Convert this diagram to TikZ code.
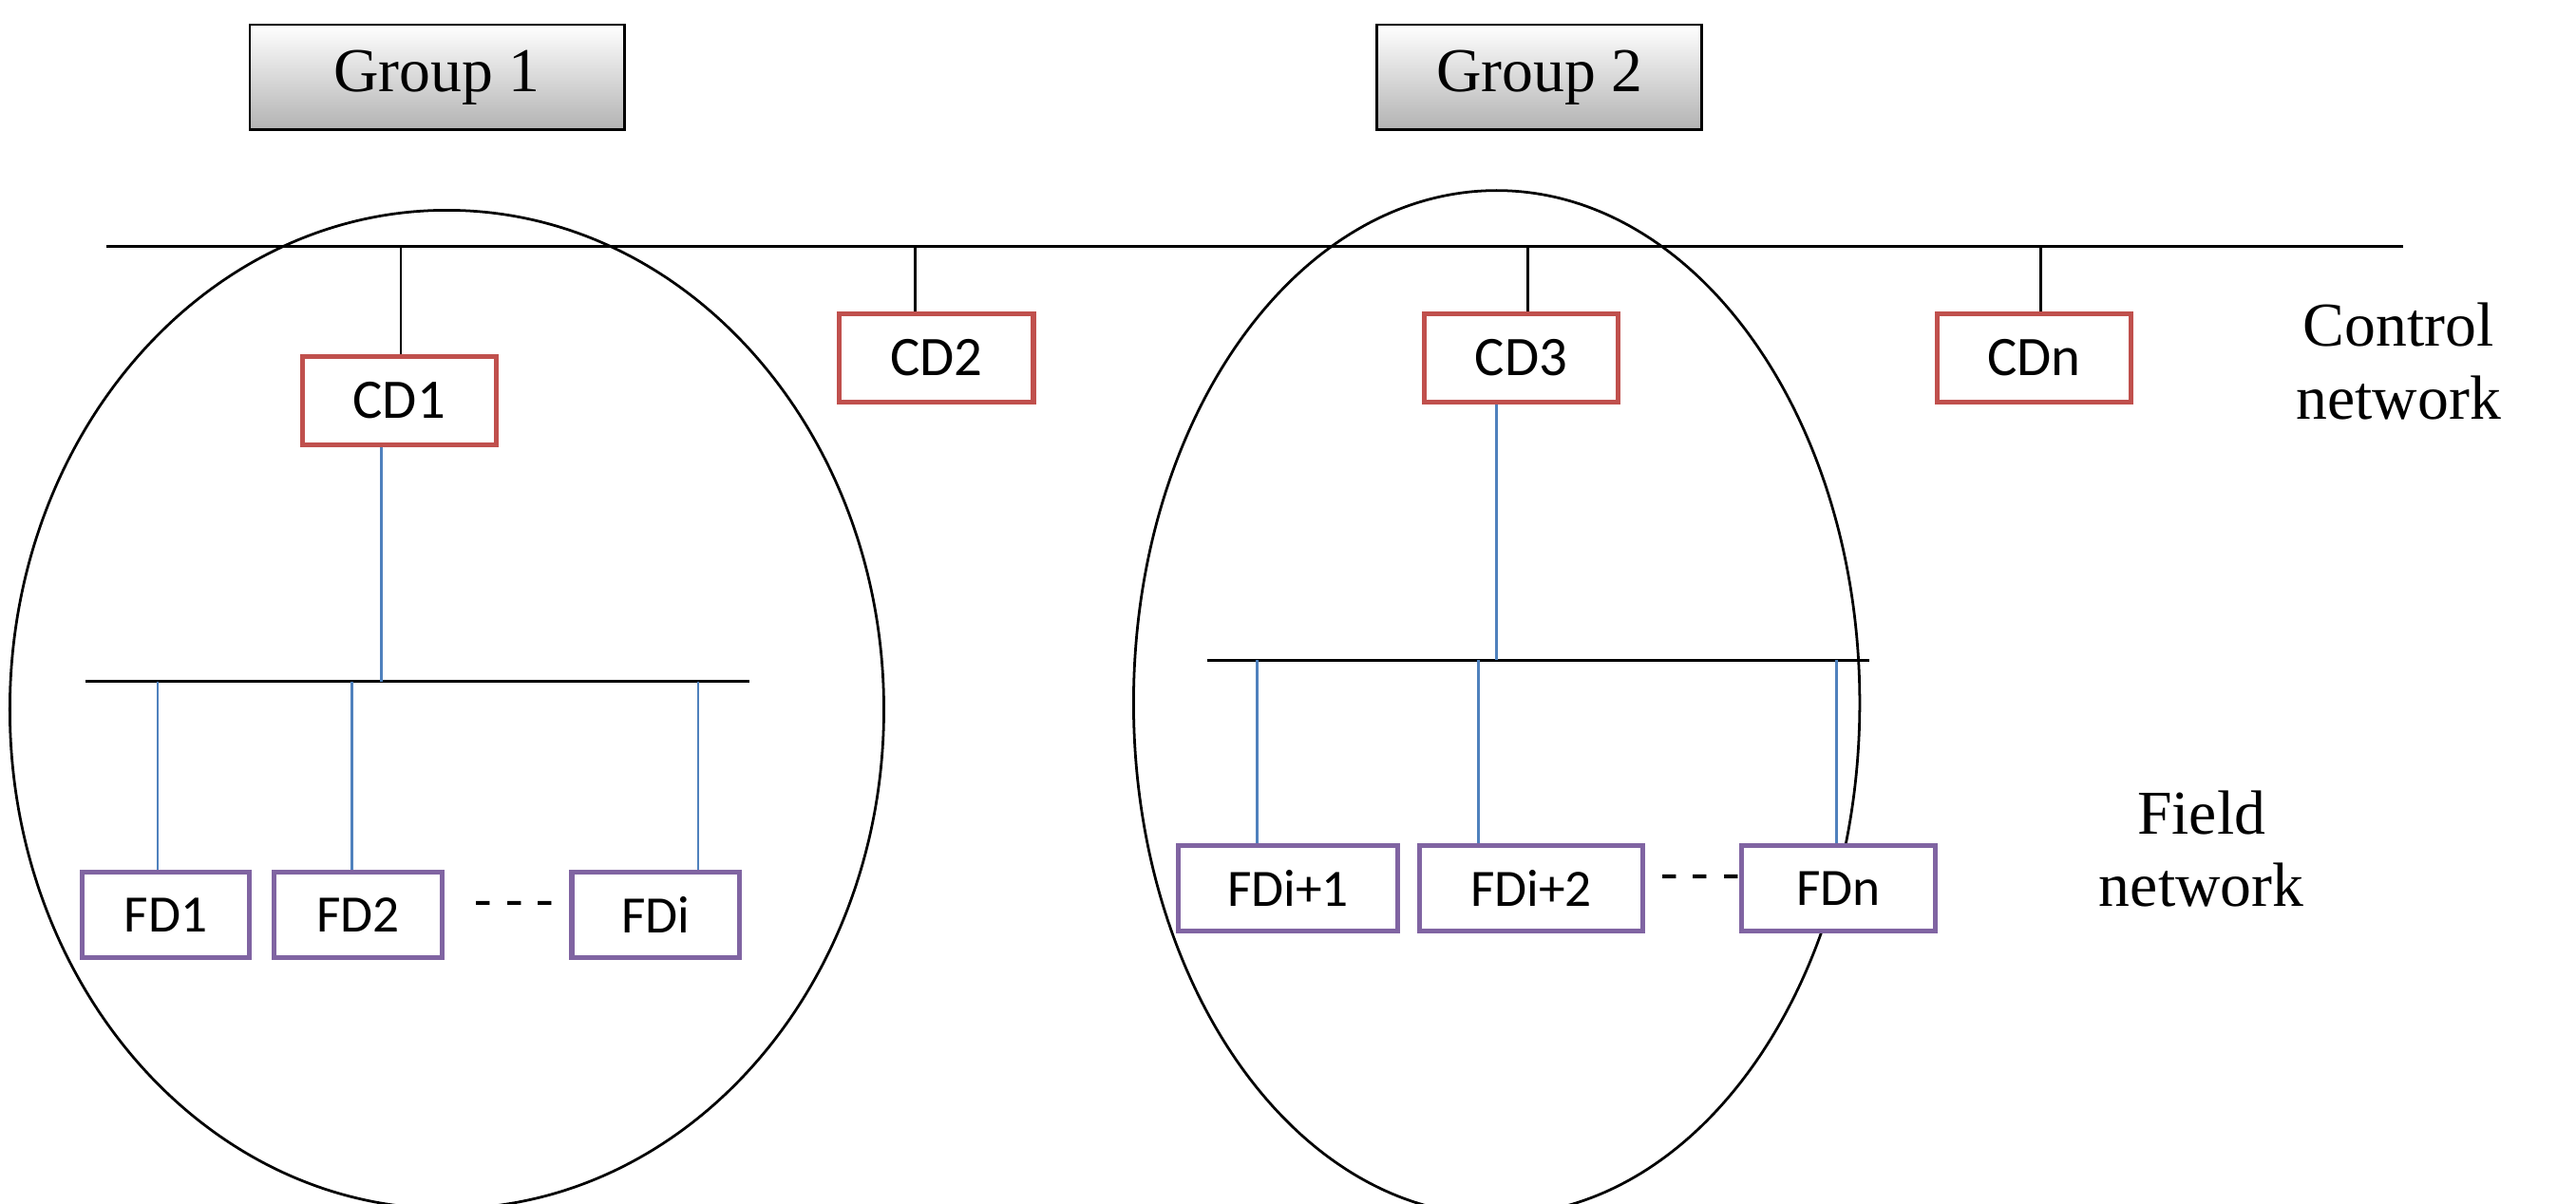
\documentclass[tikz,border=0pt]{standalone}
\usepackage{fontspec}
\setmainfont{Liberation Serif}
\newfontfamily\carfont{Carlito}
\definecolor{cdc}{RGB}{192,80,77}
\definecolor{fdc}{RGB}{128,100,162}
\definecolor{bl}{RGB}{79,129,189}
\begin{document}
\begin{tikzpicture}[x=0.5pt,y=-0.5pt,
 grp/.style={draw=black,line width=0.8pt,top color=white,bottom color=black!30,minimum width=114pt,minimum height=32pt,font=\fontsize{19}{22}\selectfont,inner sep=0pt},
 cd/.style={draw=cdc,line width=1.5pt,fill=white,minimum width=59pt,minimum height=27pt,font=\carfont\fontsize{17}{20}\selectfont,inner sep=0pt},
 fd/.style={draw=fdc,line width=1.5pt,fill=white,minimum height=26pt,font=\carfont\fontsize{16}{19}\selectfont,inner sep=0pt},
 bus/.style={line width=0.8pt},
 bln/.style={bl,line width=0.8pt},
 lbl/.style={font=\fontsize{19}{22}\selectfont,align=center}]
\useasboundingbox (0,0) rectangle (1568,733);
\draw[line width=0.8pt] (272,432) ellipse [x radius=266,y radius=304];
\draw[line width=0.8pt] (911,428) ellipse [x radius=221,y radius=312];
\node[grp] (g1) at (266,47) {Group 1};
\node[grp,minimum width=99pt] (g2) at (937,47) {Group 2};
\coordinate (bl) at (65,150); \coordinate (br) at (1463,150);
\draw[bus] (bl) -- (br);
\node[cd] (cd1) at (243,244) {CD1};
\node[cd] (cd2) at (570,218) {CD2};
\node[cd] (cd3) at (926,218) {CD3};
\node[cd] (cdn) at (1238,218) {CDn};
\foreach \n/\x in {cd1/244,cd2/557,cd3/930,cdn/1242}{
 \coordinate (t\n) at (\x,150);
 \draw[bus] (t\n) -- (t\n |- \n.north);}
% field bus 1
\coordinate (f1l) at (52,415); \coordinate (f1r) at (456,415);
\draw[bus] (f1l) -- (f1r);
\coordinate (j1) at (232,415);
\draw[bln] (cd1.south -| j1) -- (j1);
\node[fd,minimum width=51pt] (fd1) at (101,557) {FD1};
\node[fd,minimum width=51pt] (fd2) at (218,557) {FD2};
\node[fd,minimum width=51pt] (fdi) at (399,557) {FDi};
\foreach \n/\x in {fd1/96,fd2/214,fdi/425}{
 \coordinate (s\n) at (\x,415);
 \draw[bln] (s\n) -- (s\n |- \n.north);}
\node[font=\fontsize{16}{19}\selectfont] (d1) at (313,553) {- - -};
% field bus 2
\coordinate (f2l) at (735,402); \coordinate (f2r) at (1138,402);
\draw[bus] (f2l) -- (f2r);
\coordinate (j2) at (911,402);
\draw[bln] (cd3.south -| j2) -- (j2);
\node[fd,minimum width=67pt] (fdi1) at (784,541) {FDi+1};
\node[fd,minimum width=68pt] (fdi2) at (932,541) {FDi+2};
\node[fd,minimum width=59pt] (fdn) at (1119,541) {FDn};
\foreach \n/\x in {fdi1/765,fdi2/900,fdn/1118}{
 \coordinate (s\n) at (\x,402);
 \draw[bln] (s\n) -- (s\n |- \n.north);}
\node[font=\fontsize{16}{19}\selectfont] (d2) at (1035,537) {- - -};
\node[lbl] (cn) at (1460,220) {Control\\network};
\node[lbl] (fn) at (1340,517) {Field\\network};
\end{tikzpicture}
\end{document}
